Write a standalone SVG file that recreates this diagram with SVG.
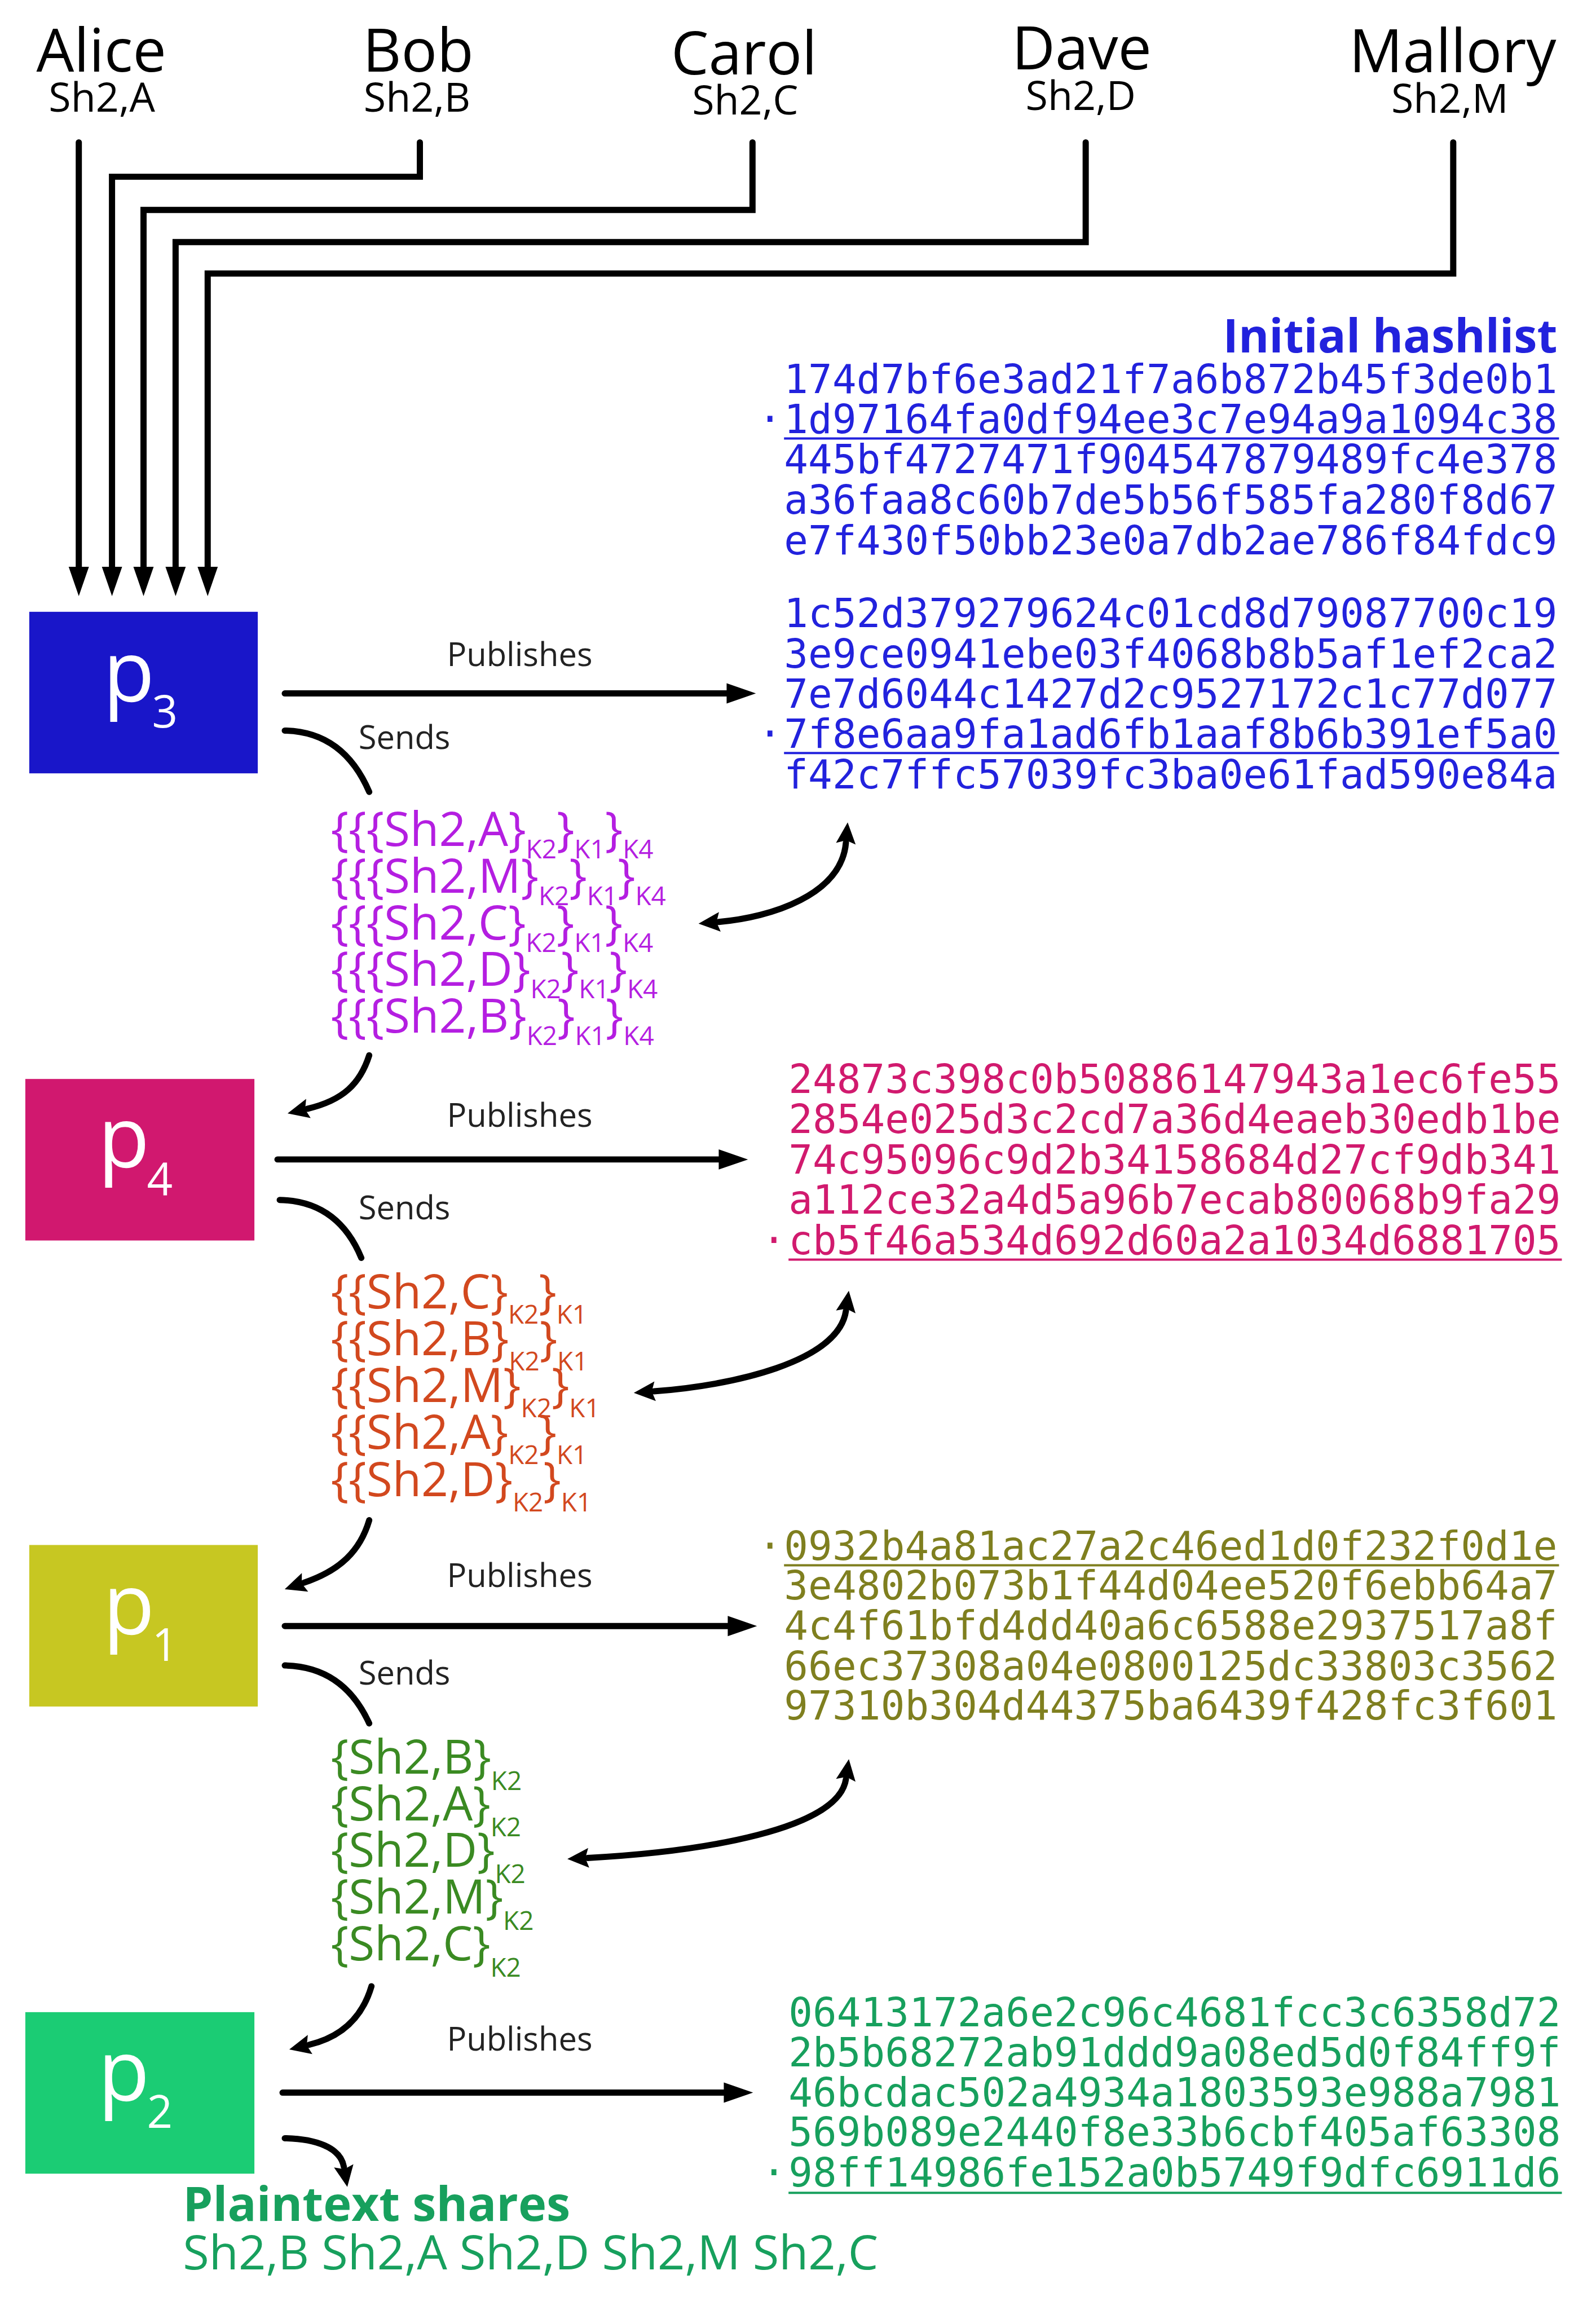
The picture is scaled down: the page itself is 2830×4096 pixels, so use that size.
<svg xmlns="http://www.w3.org/2000/svg" width="2830" height="4096" viewBox="0 0 2830 4096">
<style>
text{font-family:"Open Sans","Noto Sans","DejaVu Sans",sans-serif}
.nm{font-size:106px;fill:#000;text-anchor:middle}
.sh{font-size:72px;fill:#000;text-anchor:middle}
.lbl{font-size:58px;fill:#222}
.pl{font-size:150px;fill:#fff}
.ps{font-size:80px}
.hx{font-family:"DejaVu Sans Mono","Liberation Mono",monospace;font-size:71px}
.dot{font-family:"DejaVu Sans Mono","Liberation Mono",monospace;font-size:71px;text-anchor:middle}
.enc{font-size:84px}
.sb{font-size:46px}
.blue{fill:#2222dd}
.pink{fill:#d11a6e}
.olive{fill:#7f7f1f}
.green{fill:#17a05d}
.pu{fill:#b41ee1}
.or{fill:#d2481e}
.gr{fill:#3a8a22}
.ul{stroke-width:4;fill:none}
.ln{fill:none;stroke:#000;stroke-width:11;stroke-linecap:round;stroke-linejoin:miter}
</style>
<defs>
<marker id="head" markerUnits="userSpaceOnUse" markerWidth="60" markerHeight="40" refX="0" refY="0" orient="auto" overflow="visible"><path d="M0,-18 L52,0 L0,18 Z" fill="#000"/></marker>
<marker id="chead" markerUnits="userSpaceOnUse" markerWidth="40" markerHeight="40" refX="0" refY="0" orient="auto-start-reverse" overflow="visible"><path d="M-2,-17.5 L36,0 L-2,17.5 L4,0 Z" fill="#000"/></marker>
</defs>
<g transform="scale(0.998)">
<g id="alice"><text class="nm" x="180" y="127">Alice</text><text class="sh" x="181" y="198">Sh2,A</text></g>
<g id="bob"><text class="nm" x="743" y="127">Bob</text><text class="sh" x="741" y="198">Sh2,B</text></g>
<g id="carol"><text class="nm" x="1322" y="132">Carol</text><text class="sh" x="1324" y="203">Sh2,C</text></g>
<g id="dave"><text class="nm" x="1922" y="123">Dave</text><text class="sh" x="1920" y="195">Sh2,D</text></g>
<g id="mallory"><text class="nm" x="2581" y="128">Mallory</text><text class="sh" x="2576" y="200">Sh2,M</text></g>

<g id="p3"><rect x="52" y="1087" width="406" height="287" fill="#1916c9"/><text class="pl" x="183" y="1246">p<tspan class="ps" x="270" y="1293">3</tspan></text></g>
<g id="p4"><rect x="45" y="1917" width="407" height="287" fill="#d1186f"/><text class="pl" x="174" y="2074">p<tspan class="ps" x="261" y="2123">4</tspan></text></g>
<g id="p1"><rect x="52" y="2745" width="406" height="287" fill="#c7c722"/><text class="pl" x="183" y="2904">p<tspan class="ps" x="270" y="2951">1</tspan></text></g>
<g id="p2"><rect x="45" y="3575" width="407" height="287" fill="#1bcc74"/><text class="pl" x="174" y="3732">p<tspan class="ps" x="261" y="3781">2</tspan></text></g>

<g id="hash-initial" class="blue">
<text x="2767" y="626" style="font-size:83px;font-weight:bold;text-anchor:end">Initial hashlist</text>
<text class="hx" x="1393" y="698" textLength="1374">174d7bf6e3ad21f7a6b872b45f3de0b1</text>
<text class="dot" x="1368" y="770">·</text>
<text class="hx" x="1393" y="770" textLength="1374">1d97164fa0df94ee3c7e94a9a1094c38</text>
<line class="ul" x1="1393" y1="779" x2="2770" y2="779" stroke="#2222dd"/>
<text class="hx" x="1393" y="841" textLength="1374">445bf4727471f904547879489fc4e378</text>
<text class="hx" x="1393" y="913" textLength="1374">a36faa8c60b7de5b56f585fa280f8d67</text>
<text class="hx" x="1393" y="985" textLength="1374">e7f430f50bb23e0a7db2ae786f84fdc9</text>
<text class="hx" x="1393" y="1114" textLength="1374">1c52d379279624c01cd8d79087700c19</text>
<text class="hx" x="1393" y="1186" textLength="1374">3e9ce0941ebe03f4068b8b5af1ef2ca2</text>
<text class="hx" x="1393" y="1258" textLength="1374">7e7d6044c1427d2c9527172c1c77d077</text>
<text class="dot" x="1368" y="1329">·</text>
<text class="hx" x="1393" y="1329" textLength="1374">7f8e6aa9fa1ad6fb1aaf8b6b391ef5a0</text>
<line class="ul" x1="1393" y1="1338" x2="2770" y2="1338" stroke="#2222dd"/>
<text class="hx" x="1393" y="1401" textLength="1374">f42c7ffc57039fc3ba0e61fad590e84a</text>
</g>

<g id="hash-p4" class="pink">
<text class="hx" x="1401" y="1942" textLength="1372">24873c398c0b50886147943a1ec6fe55</text>
<text class="hx" x="1401" y="2013" textLength="1372">2854e025d3c2cd7a36d4eaeb30edb1be</text>
<text class="hx" x="1401" y="2085" textLength="1372">74c95096c9d2b34158684d27cf9db341</text>
<text class="hx" x="1401" y="2156" textLength="1372">a112ce32a4d5a96b7ecab80068b9fa29</text>
<text class="dot" x="1375" y="2228">·</text>
<text class="hx" x="1401" y="2228" textLength="1372">cb5f46a534d692d60a2a1034d6881705</text>
<line class="ul" x1="1401" y1="2238" x2="2775" y2="2238" stroke="#d11a6e"/>
</g>

<g id="hash-p1" class="olive">
<text class="dot" x="1368" y="2772">·</text>
<text class="hx" x="1393" y="2772" textLength="1374">0932b4a81ac27a2c46ed1d0f232f0d1e</text>
<line class="ul" x1="1393" y1="2781" x2="2770" y2="2781" stroke="#7f7f1f"/>
<text class="hx" x="1393" y="2842" textLength="1374">3e4802b073b1f44d04ee520f6ebb64a7</text>
<text class="hx" x="1393" y="2913" textLength="1374">4c4f61bfd4dd40a6c6588e2937517a8f</text>
<text class="hx" x="1393" y="2985" textLength="1374">66ec37308a04e0800125dc33803c3562</text>
<text class="hx" x="1393" y="3055" textLength="1374">97310b304d44375ba6439f428fc3f601</text>
</g>

<g id="hash-p2" class="green">
<text class="hx" x="1401" y="3600" textLength="1372">06413172a6e2c96c4681fcc3c6358d72</text>
<text class="hx" x="1401" y="3671" textLength="1372">2b5b68272ab91ddd9a08ed5d0f84ff9f</text>
<text class="hx" x="1401" y="3742" textLength="1372">46bcdac502a4934a1803593e988a7981</text>
<text class="hx" x="1401" y="3813" textLength="1372">569b089e2440f8e33b6cbf405af63308</text>
<text class="dot" x="1375" y="3885">·</text>
<text class="hx" x="1401" y="3885" textLength="1372">98ff14986fe152a0b5749f9dfc6911d6</text>
<line class="ul" x1="1401" y1="3896" x2="2775" y2="3896" stroke="#17a05d"/>
</g>

<g id="enc-k4" class="pu">
<text class="enc" x="588" y="1503">{{{Sh2,A}<tspan class="sb" dy="22">K2</tspan><tspan dy="-22">}</tspan><tspan class="sb" dy="22">K1</tspan><tspan dy="-22">}</tspan><tspan class="sb" dy="22">K4</tspan></text>
<text class="enc" x="588" y="1586">{{{Sh2,M}<tspan class="sb" dy="22">K2</tspan><tspan dy="-22">}</tspan><tspan class="sb" dy="22">K1</tspan><tspan dy="-22">}</tspan><tspan class="sb" dy="22">K4</tspan></text>
<text class="enc" x="588" y="1669">{{{Sh2,C}<tspan class="sb" dy="22">K2</tspan><tspan dy="-22">}</tspan><tspan class="sb" dy="22">K1</tspan><tspan dy="-22">}</tspan><tspan class="sb" dy="22">K4</tspan></text>
<text class="enc" x="588" y="1752">{{{Sh2,D}<tspan class="sb" dy="22">K2</tspan><tspan dy="-22">}</tspan><tspan class="sb" dy="22">K1</tspan><tspan dy="-22">}</tspan><tspan class="sb" dy="22">K4</tspan></text>
<text class="enc" x="588" y="1835">{{{Sh2,B}<tspan class="sb" dy="22">K2</tspan><tspan dy="-22">}</tspan><tspan class="sb" dy="22">K1</tspan><tspan dy="-22">}</tspan><tspan class="sb" dy="22">K4</tspan></text>
</g>

<g id="enc-k1" class="or">
<text class="enc" x="588" y="2325">{{Sh2,C}<tspan class="sb" dy="27">K2</tspan><tspan dy="-27">}</tspan><tspan class="sb" dy="27">K1</tspan></text>
<text class="enc" x="588" y="2408">{{Sh2,B}<tspan class="sb" dy="27">K2</tspan><tspan dy="-27">}</tspan><tspan class="sb" dy="27">K1</tspan></text>
<text class="enc" x="588" y="2491">{{Sh2,M}<tspan class="sb" dy="27">K2</tspan><tspan dy="-27">}</tspan><tspan class="sb" dy="27">K1</tspan></text>
<text class="enc" x="588" y="2574">{{Sh2,A}<tspan class="sb" dy="27">K2</tspan><tspan dy="-27">}</tspan><tspan class="sb" dy="27">K1</tspan></text>
<text class="enc" x="588" y="2658">{{Sh2,D}<tspan class="sb" dy="27">K2</tspan><tspan dy="-27">}</tspan><tspan class="sb" dy="27">K1</tspan></text>
</g>

<g id="enc-k2" class="gr">
<text class="enc" x="588" y="3151">{Sh2,B}<tspan class="sb" dy="29">K2</tspan></text>
<text class="enc" x="588" y="3234">{Sh2,A}<tspan class="sb" dy="29">K2</tspan></text>
<text class="enc" x="588" y="3317">{Sh2,D}<tspan class="sb" dy="29">K2</tspan></text>
<text class="enc" x="588" y="3400">{Sh2,M}<tspan class="sb" dy="29">K2</tspan></text>
<text class="enc" x="588" y="3483">{Sh2,C}<tspan class="sb" dy="29">K2</tspan></text>
</g>

<g id="plaintext" class="green">
<text x="325" y="3946" style="font-size:85px;font-weight:bold">Plaintext shares</text>
<text x="325" y="4032" style="font-size:85px">Sh2,B Sh2,A Sh2,D Sh2,M Sh2,C</text>
</g>

<g id="connectors">
<path class="ln" d="M140,253 V1007" marker-end="url(#head)"/>
<path class="ln" d="M746,253 V314 H199 V1007" marker-end="url(#head)"/>
<path class="ln" d="M1337,253 V373 H255 V1007" marker-end="url(#head)"/>
<path class="ln" d="M1929,253 V430 H312 V1007" marker-end="url(#head)"/>
<path class="ln" d="M2582,253 V486 H369 V1007" marker-end="url(#head)"/>

<path class="ln" d="M506,1232 H1291" marker-end="url(#head)"/>
<path class="ln" d="M493,2060 H1277" marker-end="url(#head)"/>
<path class="ln" d="M506,2889 H1293" marker-end="url(#head)"/>
<path class="ln" d="M502,3718 H1286" marker-end="url(#head)"/>

<path class="ln" d="M506,1298 Q610,1300 656,1407"/>
<path class="ln" d="M497,2132 Q600,2134 642,2235"/>
<path class="ln" d="M506,2959 Q610,2961 656,3062"/>

<path class="ln" d="M656,1875 C640,1925 610,1955 546,1970" marker-end="url(#chead)"/>
<path class="ln" d="M656,2701 C640,2755 605,2790 540,2812" marker-end="url(#chead)"/>
<path class="ln" d="M660,3529 C645,3580 612,3618 549,3633" marker-end="url(#chead)"/>
<path class="ln" d="M506,3799 C560,3800 605,3815 611,3850" marker-end="url(#chead)"/>

<path class="ln" d="M1277,1638 C1370,1630 1495,1590 1503,1497" marker-start="url(#chead)" marker-end="url(#chead)"/>
<path class="ln" d="M1162,2472 C1300,2462 1490,2420 1503,2329" marker-start="url(#chead)" marker-end="url(#chead)"/>
<path class="ln" d="M1044,3301 C1250,3290 1490,3250 1503,3161" marker-start="url(#chead)" marker-end="url(#chead)"/>
</g>

<g id="labels">
<text class="lbl" x="794" y="1183">Publishes</text>
<text class="lbl" x="637" y="1331">Sends</text>
<text class="lbl" x="794" y="2002">Publishes</text>
<text class="lbl" x="637" y="2166">Sends</text>
<text class="lbl" x="794" y="2820">Publishes</text>
<text class="lbl" x="637" y="2993">Sends</text>
<text class="lbl" x="794" y="3643">Publishes</text>
</g>
</g>
</svg>
